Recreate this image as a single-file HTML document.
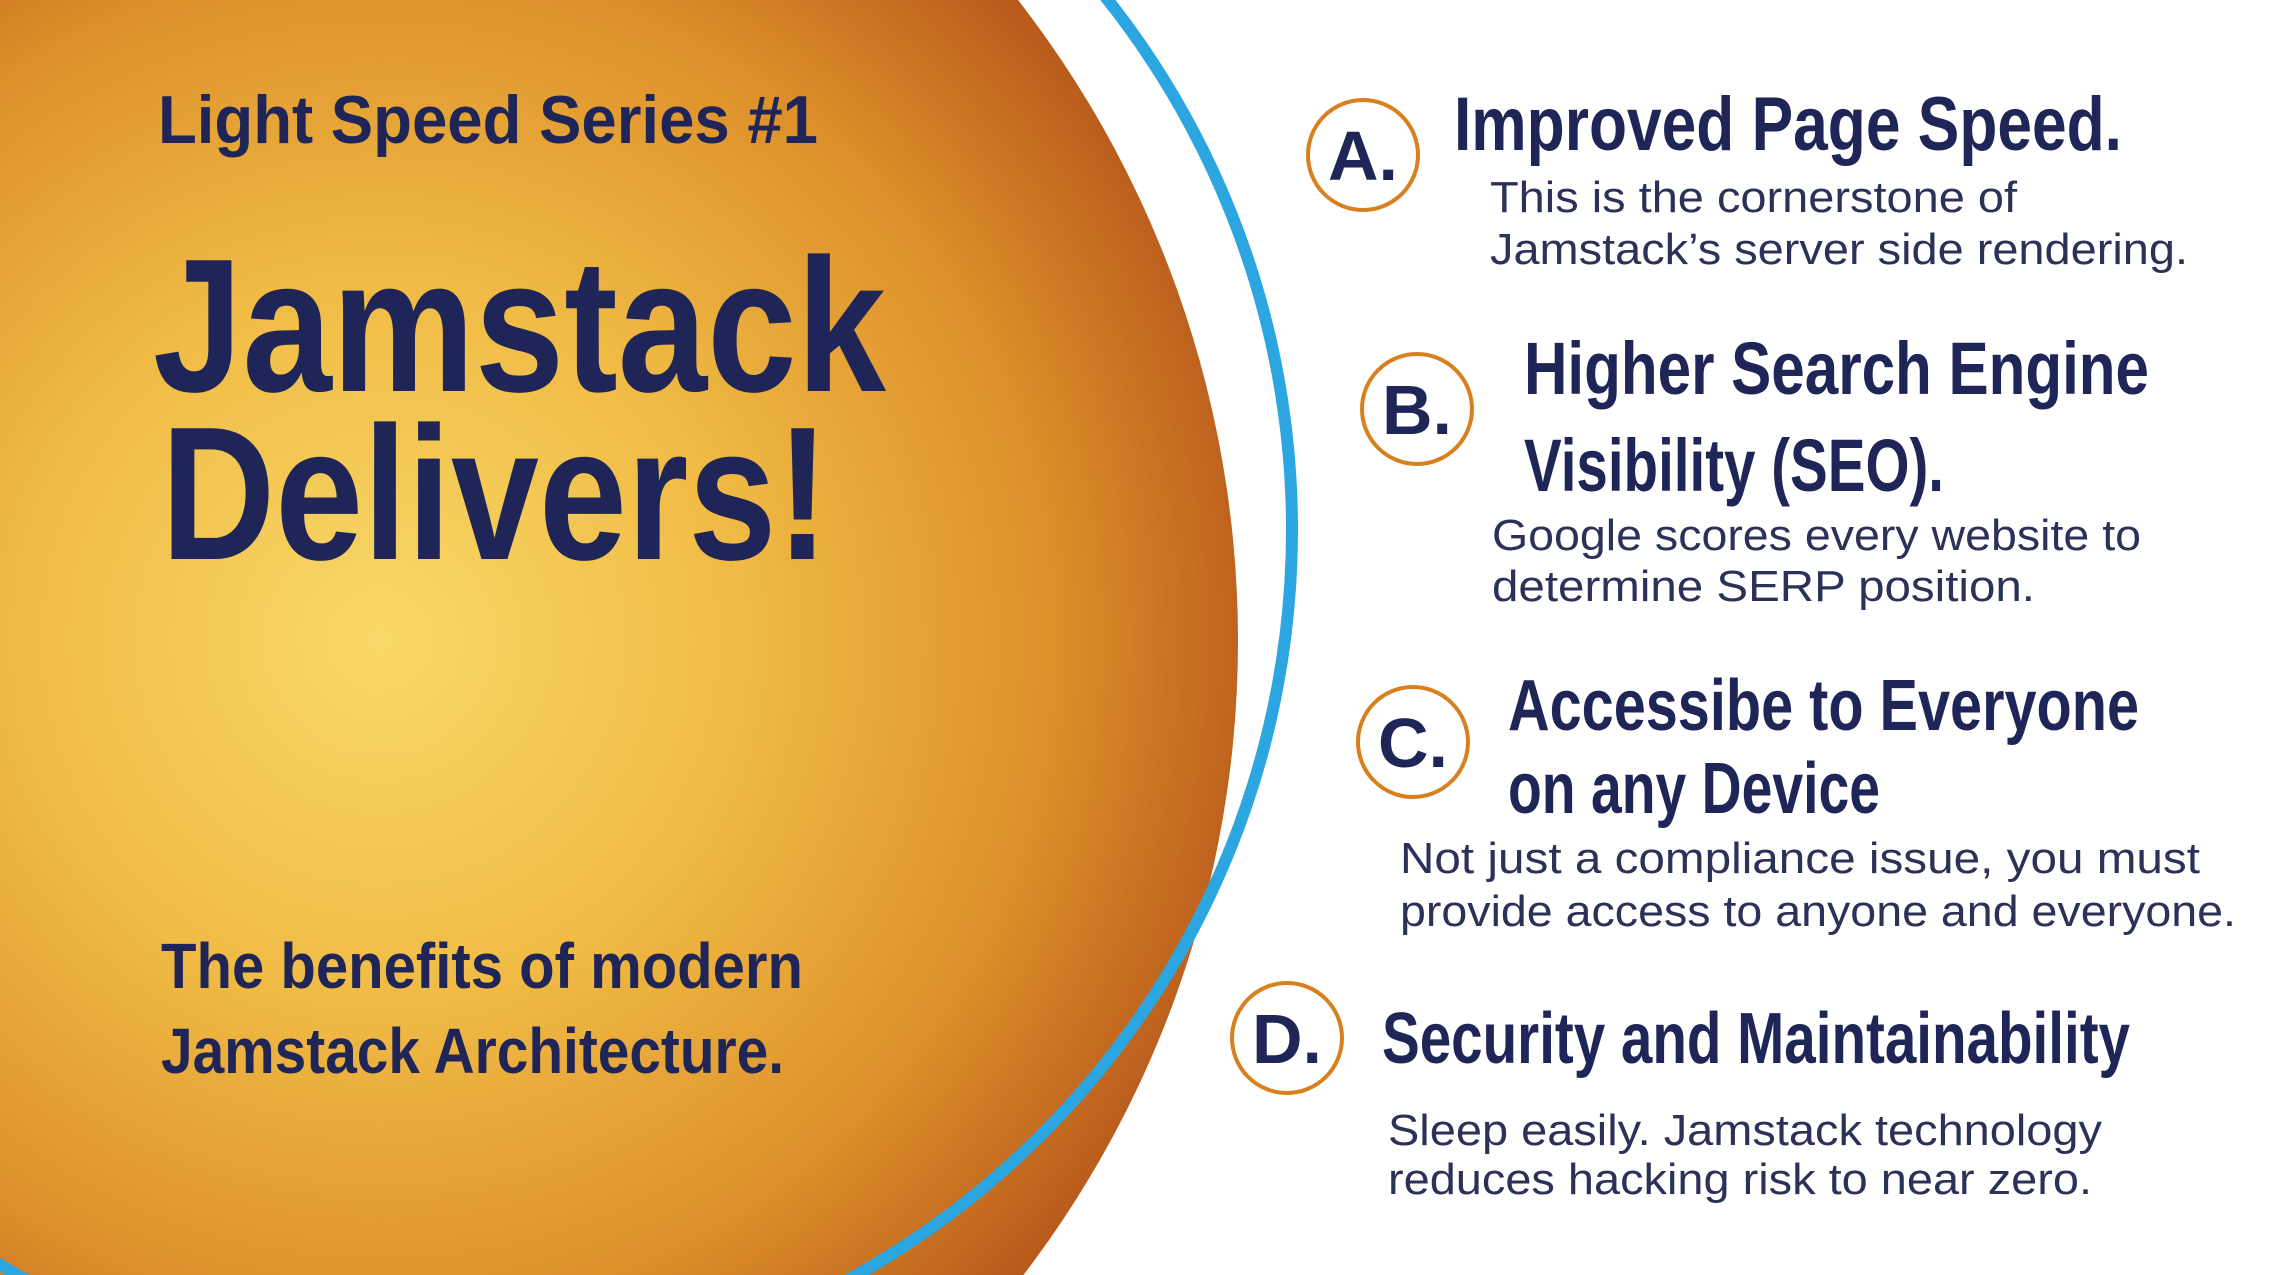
<!DOCTYPE html>
<html><head><meta charset="utf-8"><style>
html,body{margin:0;padding:0;background:#fff;width:2277px;height:1275px;overflow:hidden;}
svg{display:block;}
.h{font-family:"Liberation Sans",sans-serif;font-weight:bold;fill:#1f2657;}
.b{font-family:"Liberation Sans",sans-serif;fill:#2c3158;}
</style></head><body>
<svg width="2277" height="1275" viewBox="0 0 2277 1275" xmlns="http://www.w3.org/2000/svg">
<defs>
<radialGradient id="g" cx="380" cy="640" r="900" gradientUnits="userSpaceOnUse">
<stop offset="0" stop-color="#f8d868"/>
<stop offset="0.4" stop-color="#f0bb45"/>
<stop offset="0.75" stop-color="#dd8f2a"/>
<stop offset="1" stop-color="#b85a1c"/>
</radialGradient>
</defs>
<rect width="2277" height="1275" fill="#fff"/>
<circle cx="194" cy="641" r="1044" fill="url(#g)"/>
<circle cx="437" cy="530" r="855" fill="none" stroke="#2ca6e0" stroke-width="12"/>

<text class="h" x="158" y="143" font-size="68" textLength="660" lengthAdjust="spacingAndGlyphs">Light Speed Series #1</text>
<text class="h" x="153" y="391" font-size="190" textLength="733" lengthAdjust="spacingAndGlyphs">Jamstack</text>
<text class="h" x="161" y="559" font-size="190" textLength="668" lengthAdjust="spacingAndGlyphs">Delivers!</text>
<text class="h" x="161" y="988" font-size="64" textLength="642" lengthAdjust="spacingAndGlyphs">The benefits of modern</text>
<text class="h" x="161" y="1073" font-size="64" textLength="623" lengthAdjust="spacingAndGlyphs">Jamstack Architecture.</text>

<g transform="translate(-9,0)">
<g fill="none" stroke="#d7801d" stroke-width="4">
<circle cx="1372" cy="155" r="55"/>
<circle cx="1426" cy="409" r="55"/>
<circle cx="1422" cy="742" r="55"/>
<circle cx="1296" cy="1038" r="55"/>
</g>
<text class="h" x="1372" y="180" font-size="70" text-anchor="middle">A.</text>
<text class="h" x="1426" y="434" font-size="70" text-anchor="middle">B.</text>
<text class="h" x="1422" y="767" font-size="70" text-anchor="middle">C.</text>
<text class="h" x="1296" y="1063" font-size="70" text-anchor="middle">D.</text>

<text class="h" x="1463" y="150" font-size="76" textLength="668" lengthAdjust="spacingAndGlyphs">Improved Page Speed.</text>
<text class="b" x="1499" y="212" font-size="44" textLength="527" lengthAdjust="spacingAndGlyphs">This is the cornerstone of</text>
<text class="b" x="1499" y="264" font-size="44" textLength="698" lengthAdjust="spacingAndGlyphs">Jamstack’s server side rendering.</text>

<text class="h" x="1533" y="394" font-size="74" textLength="625" lengthAdjust="spacingAndGlyphs">Higher Search Engine</text>
<text class="h" x="1533" y="491" font-size="74" textLength="420" lengthAdjust="spacingAndGlyphs">Visibility (SEO).</text>
<text class="b" x="1501" y="550" font-size="44" textLength="649" lengthAdjust="spacingAndGlyphs">Google scores every website to</text>
<text class="b" x="1501" y="601" font-size="44" textLength="543" lengthAdjust="spacingAndGlyphs">determine SERP position.</text>

<text class="h" x="1517" y="730" font-size="72" textLength="631" lengthAdjust="spacingAndGlyphs">Accessibe to Everyone</text>
<text class="h" x="1517" y="813" font-size="72" textLength="372" lengthAdjust="spacingAndGlyphs">on any Device</text>
<text class="b" x="1409" y="873" font-size="44" textLength="800" lengthAdjust="spacingAndGlyphs">Not just a compliance issue, you must</text>
<text class="b" x="1409" y="926" font-size="44" textLength="836" lengthAdjust="spacingAndGlyphs">provide access to anyone and everyone.</text>

<text class="h" x="1391" y="1063" font-size="72" textLength="748" lengthAdjust="spacingAndGlyphs">Security and Maintainability</text>
<text class="b" x="1397" y="1145" font-size="44" textLength="714" lengthAdjust="spacingAndGlyphs">Sleep easily. Jamstack technology</text>
<text class="b" x="1397" y="1194" font-size="44" textLength="704" lengthAdjust="spacingAndGlyphs">reduces hacking risk to near zero.</text>
</g>
</svg>
</body></html>
